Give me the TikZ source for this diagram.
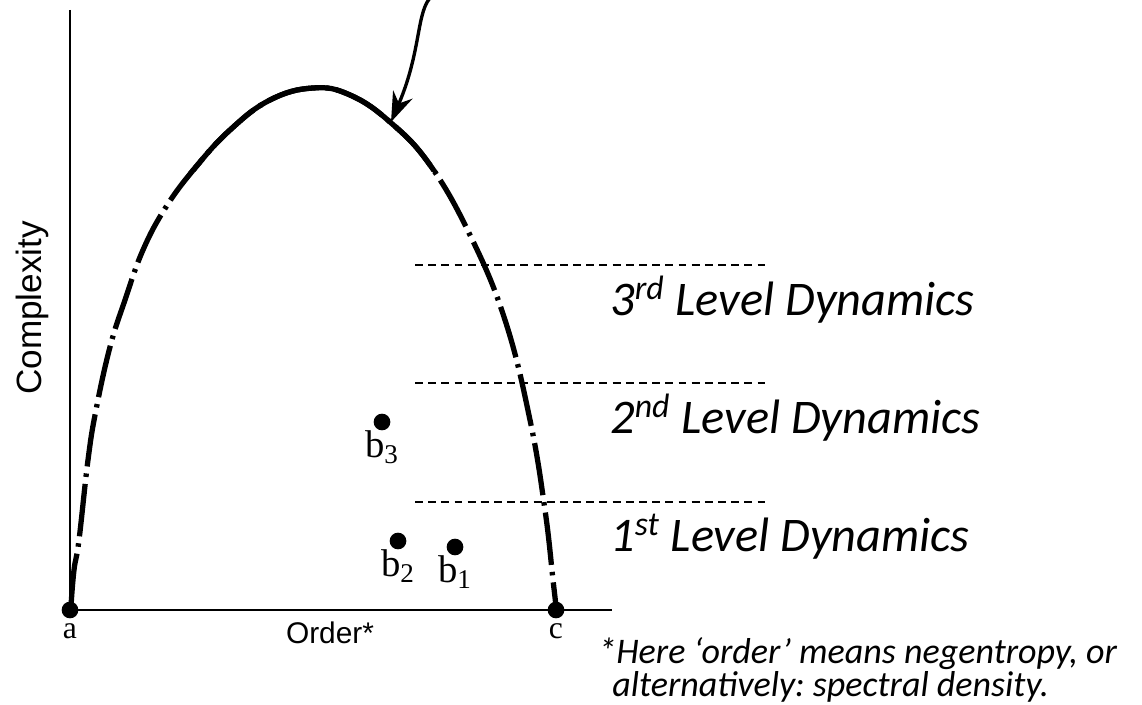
\documentclass[tikz,border=0pt]{standalone}
\usepackage{fontspec}
\setmainfont{Liberation Serif}
\newfontfamily\calibri{Carlito}
\newfontfamily\arial{Liberation Sans}
\usetikzlibrary{arrows.meta}
\frenchspacing

\begin{document}
\begin{tikzpicture}[x=0.02cm,y=-0.02cm,
 axis/.style={line width=1.7pt},
 hump/.style={line width=3pt},
 curve/.style={hump,dash pattern=on 30pt off 4pt on 2pt off 4pt},
 level/.style={line width=0.8pt,dash pattern=on 4.5pt off 3pt},
 lvltext/.style={font=\calibri\itshape\fontsize{27.5}{30}\selectfont,anchor=west,inner sep=0pt},
 note/.style={font=\calibri\itshape\fontsize{20.5}{18.5}\selectfont,align=left,anchor=base west,inner sep=0pt},
 pt/.style={circle,fill,inner sep=0pt,minimum size=9.5pt},
 bname/.style={font=\fontsize{22}{24}\selectfont,inner sep=0pt,below=5pt}]
\useasboundingbox (0,0) rectangle (1142,705);
\coordinate (o) at (70,610);
\coordinate (ytop) at (70,10);
\coordinate (xend) at (612,610);
\draw[axis](ytop)--(o)--(xend);
\def\humppts{(71,606)(74,570)(79,540)(88,460)(96,410)(110,347)(125,300)(143,250)(166,207)(195,168)(230,130)(270,100)(313,88)(350,95)(390,122)(430,165)(470,235)(505,320)(530,420)(545,510)(553,580)(556,606)}
% the hump: dash-dot flanks, solid top
\draw[curve]plot[smooth,tension=0.7]coordinates{\humppts};
\begin{scope}
\clip(180,0)rectangle(440,172);
\draw[hump]plot[smooth,tension=0.7]coordinates{\humppts};
\end{scope}
\coordinate (hit) at (391,122);
\coordinate (from) at (432,-4);
\draw[line width=1.9pt,-{Stealth[length=17pt,width=12pt]}](from)..controls(416,10)and(422,50)..(hit);
% level lines
\foreach \y/\n/\s in {265/3/rd,383/2/nd,502/1/st}{
  \coordinate (l\n) at (415,\y);
  \coordinate (r\n) at (765,\y);
  \draw[level](l\n)--(r\n);
  \node[lvltext] (t\n) at (610,\y+35) {\n\textsuperscript{\s} Level Dynamics};
}
\node[pt] (a) at (o) {};
\node[pt] (c) at (556,610) {};
\node[font=\fontsize{18}{20}\selectfont,below=4pt] (la) at (a) {a};
\node[font=\fontsize{18}{20}\selectfont,below=4pt] (lc) at (c) {c};
\node[font=\arial\fontsize{17}{20}\selectfont] (ord) at (330,633) {Order*};
\node[font=\arial\fontsize{20}{22}\selectfont,rotate=90] (cx) at (32,308) {Complexity};
\node[pt] (b3) at (382,422) {};
\node[pt] (b2) at (398,541) {};
\node[pt] (b1) at (455,547) {};
\node[bname] at (b3) {b\textsubscript{3}};
\node[bname] at (b2) {b\textsubscript{2}};
\node[bname] at (b1) {b\textsubscript{1}};
\node[note] (note) at (598,696) {*Here ‘order’ means negentropy, or\\\hspace*{8pt}alternatively: spectral density.};
\end{tikzpicture}
\end{document}
